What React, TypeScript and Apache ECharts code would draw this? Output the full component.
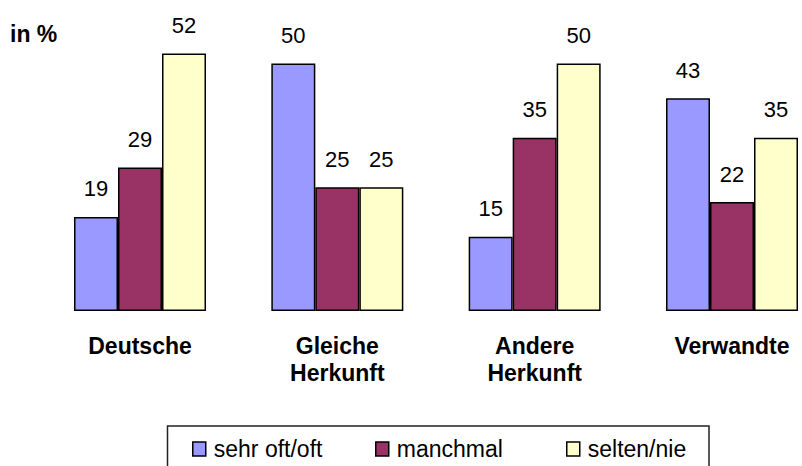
import React, { useEffect, useRef } from "react";
import * as echarts from "echarts";

const categories = ["Deutsche", "Gleiche\nHerkunft", "Andere\nHerkunft", "Verwandte"];
const seriesNames = ["sehr oft/oft", "manchmal", "selten/nie"];
const sehrOft = [19, 50, 15, 43];
const manchmal = [29, 25, 35, 22];
const seltenNie = [52, 25, 50, 35];
const colors = ["#9999FF", "#993366", "#FFFFCC"];
const yUnit = "in %";

const FONT = "'Liberation Sans', Arial, sans-serif";

export default function App() {
  const ref = useRef<HTMLDivElement>(null);
  useEffect(() => {
    if (!ref.current) return;
    const chart = echarts.init(ref.current, undefined, { renderer: "svg" });
    const values = [sehrOft, manchmal, seltenNie];
    const legendLefts = [192, 375, 566];
    chart.setOption({
      animation: false,
      backgroundColor: "#ffffff",
      textStyle: { fontFamily: FONT },
      grid: { left: 140, top: 14, width: 592, height: 297, containLabel: false },
      xAxis: {
        type: "category",
        data: categories,
        boundaryGap: false,
        axisLine: { show: false },
        axisTick: { show: false },
        splitLine: { show: false },
        axisLabel: {
          interval: 0,
          margin: 21,
          fontSize: 23,
          fontWeight: "bold",
          color: "#000",
          lineHeight: 27,
          fontFamily: FONT,
        },
      },
      yAxis: {
        type: "value",
        min: 0,
        max: 60,
        show: false,
        splitLine: { show: false },
      },
      legend: seriesNames.map((n, i) => ({
        data: [n],
        left: legendLefts[i],
        top: 437,
        padding: 0,
        icon: "rect",
        itemWidth: 13,
        itemHeight: 14,
        itemStyle: { color: colors[i], borderColor: "#000", borderWidth: 1.5 },
        textStyle: {
          fontSize: 23,
          color: "#000",
          lineHeight: 24,
          fontFamily: FONT,
          padding: [0, 0, 0, 3],
        },
        selectedMode: false,
      })),
      graphic: [
        {
          type: "rect",
          shape: { x: 167.5, y: 426, width: 541.5, height: 60 },
          style: { fill: "none", stroke: "#222", lineWidth: 1.5 },
          z: 0,
        },
        {
          type: "text",
          x: 10,
          y: 34,
          style: {
            text: yUnit,
            font: `bold 23px ${FONT}`,
            fill: "#000",
            verticalAlign: "middle",
          },
        },
      ],
      series: seriesNames.map((n, i) => ({
        name: n,
        type: "bar",
        data: values[i],
        barWidth: 44,
        barGap: "0%",
        itemStyle: { color: colors[i], borderColor: "#000", borderWidth: 1.5 },
        label: {
          show: true,
          position: "top",
          distance: 17,
          fontSize: 22,
          color: "#000",
          fontFamily: FONT,
        },
      })),
    });
    return () => chart.dispose();
  }, []);
  return (
    <div
      ref={ref}
      style={{ position: "fixed", left: 0, top: 0, width: 802, height: 466 }}
    />
  );
}
